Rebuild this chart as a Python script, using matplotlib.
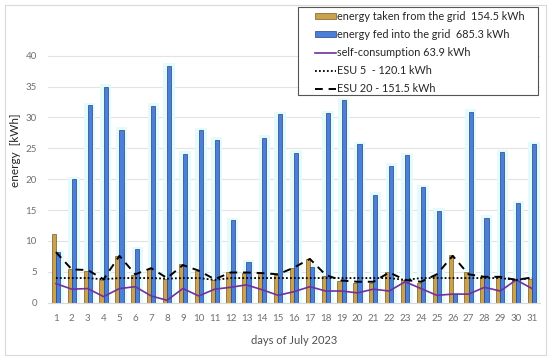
import numpy as np
import matplotlib
matplotlib.use("Agg")
import matplotlib.pyplot as plt
from matplotlib.patches import Patch, Rectangle
from matplotlib.lines import Line2D

# ---- data ----
days = list(range(1, 32))

grid_taken = [11.1, 5.4, 5.2, 3.7, 7.6, 4.5, 5.5, 3.9, 6.2, 5.2,
              3.7, 4.9, 4.8, 4.8, 4.5, 5.7, 7.1, 4.4, 3.5, 3.2,
              3.2, 4.9, 3.7, 3.2, 4.3, 7.7, 4.9, 4.2, 4.1, 3.7, 3.9]

grid_fed = [8.2, 20.0, 32.0, 35.0, 28.0, 8.7, 31.9, 38.4, 24.1, 27.9,
            26.4, 13.4, 6.6, 26.7, 30.5, 24.3, 5.8, 30.7, 32.8, 25.7,
            17.5, 22.2, 23.9, 18.7, 14.9, 1.4, 30.9, 13.8, 24.4, 16.1, 25.7]

self_consumption = [3.1, 2.2, 2.3, 1.0, 2.3, 2.6, 1.1, 0.4, 2.3, 1.1,
                    2.2, 2.5, 2.9, 2.1, 1.2, 1.8, 2.6, 1.9, 1.9, 1.6,
                    2.2, 1.9, 3.4, 2.3, 1.2, 1.4, 1.4, 2.5, 1.9, 3.7, 2.3]

esu5 = [4.0, 4.0, 4.0, 3.8, 4.0, 4.0, 4.0, 3.9, 4.0, 4.0,
        3.7, 4.0, 4.0, 4.0, 4.0, 4.0, 4.0, 4.0, 4.0, 4.0,
        4.0, 4.0, 3.7, 4.0, 4.0, 4.0, 4.0, 4.0, 4.0, 3.7, 4.0]

esu20 = [8.2, 5.4, 5.3, 3.8, 7.6, 4.6, 5.6, 4.0, 6.1, 5.2,
         3.8, 4.9, 4.9, 4.8, 4.6, 5.7, 7.1, 4.5, 3.6, 3.4,
         3.4, 4.9, 3.7, 3.4, 4.6, 7.6, 4.6, 4.2, 4.2, 3.7, 4.1]

labels = ["energy taken from the grid  154.5 kWh",
          "energy fed into the grid  685.3 kWh",
          "self-consumption 63.9 kWh",
          "ESU 5  - 120.1 kWh",
          "ESU 20 - 151.5 kWh"]

GOLD = "#c8a24e"
BLUE = "#4a80d8"
PURPLE = "#7030a0"
TEXT = "#707070"


def main():
    plt.rcParams["font.family"] = ["Lato", "DejaVu Sans"]

    fig = plt.figure(figsize=(5.5, 3.6), dpi=100)
    ax = fig.add_axes([48 / 550, 0.159, (540 - 48) / 550, 0.755])

    x = np.array(days)

    # pale halo behind the blue bars, like in the original export
    ax.bar(x + 0.13, np.array(grid_fed) + 0.4, width=0.72, color="#e4fbfb",
           zorder=1.5)
    ax.bar(x - 0.13, grid_taken, width=0.26, color=GOLD, edgecolor="#7a5a1a",
           linewidth=0.5, zorder=2)
    ax.bar(x + 0.13, grid_fed, width=0.26, color=BLUE, edgecolor="#2a3f8a",
           linewidth=0.5, zorder=2)

    ax.plot(x, self_consumption, color=PURPLE, linewidth=1.2, zorder=3)
    ax.plot(x, esu5, color="black", linestyle=(0, (1, 1.2)), linewidth=1.3, zorder=3)
    ax.plot(x, esu20, color="black", linestyle=(0, (4, 3)), linewidth=1.4, zorder=3)

    ax.set_xlim(0.5, 31.5)
    ax.set_ylim(0, 44)
    ax.set_xticks(days)
    ax.set_yticks(range(0, 45, 5))
    ax.grid(axis="y", color="#e3e3e3", linewidth=0.8, zorder=0)
    ax.set_axisbelow(True)
    for side in ["top", "right", "left"]:
        ax.spines[side].set_visible(False)
    ax.spines["bottom"].set_color("#d9d9d9")
    ax.tick_params(length=0, labelsize=7, colors=TEXT, pad=8)

    ax.set_xlabel("days of July 2023", fontsize=8, color="#505050", labelpad=9)
    ax.set_ylabel("energy  [kWh]", fontsize=8.5, color="#262626", labelpad=6)
    ax.yaxis.set_label_coords(-0.055, 0.56)

    # legend with a plain box
    fig.patches.append(Rectangle((298 / 550, 1 - 95 / 360), 240 / 550, 88 / 360,
                                 transform=fig.transFigure, facecolor="white",
                                 edgecolor="#555555", linewidth=0.8, zorder=1))
    handles = [Patch(facecolor=GOLD, edgecolor="#7a5a1a", linewidth=0.5),
               Patch(facecolor=BLUE, edgecolor="#2a3f8a", linewidth=0.5),
               Line2D([], [], color=PURPLE, linewidth=1.2),
               Line2D([], [], color="black", linestyle=(0, (1, 1.2)), linewidth=1.3),
               Line2D([], [], color="black", linestyle=(0, (4, 3)), linewidth=1.4)]
    fig.legend(handles, labels, loc="upper left",
               bbox_to_anchor=(315 / 550, 1 - 11 / 360), frameon=False,
               fontsize=7.8, handlelength=1.95, handleheight=0.45,
               handletextpad=0.1, labelspacing=0.65, borderpad=0,
               borderaxespad=0, labelcolor="#262626")

    # outer chart frame
    fig.patches.append(Rectangle((5 / 550, 5 / 360), 541 / 550, 350 / 360,
                                 transform=fig.transFigure, fill=False,
                                 edgecolor="#d9d9d9", linewidth=0.8, zorder=0))

    fig.savefig("out.png", dpi=100)


if __name__ == "__main__":
    main()
